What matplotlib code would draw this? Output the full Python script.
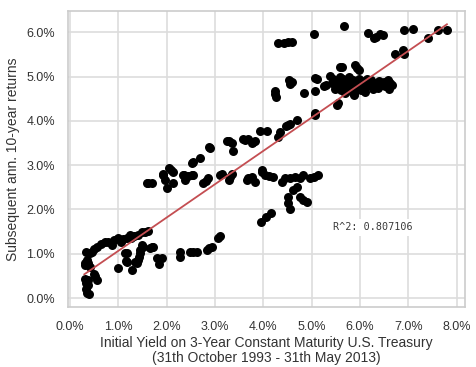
import matplotlib
matplotlib.use("Agg")
import matplotlib.pyplot as plt
import matplotlib.ticker as mticker
import numpy as np

# ---- data (percent units) ----
init_yield = [
    # low-left cluster
    0.33, 0.41, 0.36, 0.31, 0.41, 0.38, 0.31, 0.38, 0.34, 0.38, 0.35, 0.40, 0.33, 0.52, 0.55, 0.50, 0.30, 0.45, 0.55, 0.50,
    # upper arc
    0.65, 0.72, 0.79, 0.86, 0.92, 0.99, 1.06, 1.10, 1.17, 1.24, 1.27, 1.33, 1.41, 1.48, 1.55, 1.61,
    # lower scatter 1-2%
    0.99, 1.14, 1.16, 1.29, 1.35, 1.41, 1.38, 1.44, 1.45, 1.48, 1.52, 1.65, 1.72, 1.69, 1.79, 1.84, 1.90, 1.43, 1.17, 1.17,
    # lower band 2-3%
    2.28, 2.28, 2.48, 2.55, 2.62, 2.83, 2.88, 2.93, 3.07, 3.10,
    # middle band 1.6-3.9
    1.59, 1.62, 1.69, 1.93, 1.97, 2.00, 2.04, 2.09, 2.14, 2.14, 2.35, 2.38, 2.45, 2.52, 2.52, 2.55, 2.69,
    2.76, 2.82, 2.86, 2.88, 2.90, 3.10, 3.14, 3.28, 3.31, 3.35, 3.38, 3.24, 3.30, 3.35, 3.62, 3.69, 3.76, 3.83,
    2.33, 2.55, 1.93,
    # middle band 3.7-5.2
    3.66, 3.69, 3.76, 3.83, 3.97, 4.04, 4.11, 4.21, 4.38, 4.45, 4.55, 4.66, 4.76, 4.83, 4.97, 5.05, 5.14, 3.97,
    4.69, 4.62, 4.52, 4.52, 4.55, 4.76, 4.83, 4.90,
    4.16, 4.06, 3.95,
    # near line 3.9-5.5
    3.93, 4.07, 4.31, 4.35, 4.48, 4.52, 4.56, 4.69, 5.07, 5.07, 5.52, 5.54, 3.57, 3.78,
    # 4.2-6.0 upper
    4.24, 4.27, 4.25, 4.54, 4.56, 4.59, 4.85, 5.07, 5.08, 5.12, 5.25, 5.30, 5.37, 5.58, 5.63, 5.89, 5.94, 5.99,
    # dense cluster
    5.42, 5.45, 5.50, 5.55, 5.58, 5.60, 5.62, 5.65, 5.68, 5.70, 5.72, 5.75, 5.78, 5.80, 5.82, 5.85, 5.87, 5.90,
    5.92, 5.95, 5.98, 6.00, 6.05, 6.08, 6.12, 6.18, 6.22, 6.26, 6.30, 6.35, 6.40, 6.45, 6.52, 6.58, 6.62, 6.67, 5.88,
    5.48, 5.53, 5.66, 5.74, 5.84, 6.02, 6.15, 6.28, 6.38, 6.50, 6.60, 6.10,
    # top row
    4.30, 4.42, 4.52, 4.59, 5.05, 5.67, 6.16, 6.30, 6.34, 6.42, 6.48, 6.92, 7.10, 7.41, 7.61, 7.80, 6.72, 6.90, 6.92,
]
fwd_return = [
    1.05, 1.01, 0.86, 0.74, 0.71, 0.78, 0.44, 0.41, 0.35, 0.29, 0.11, 0.09, 0.20, 0.50, 0.41, 0.55, 0.78, 1.05, 1.16, 1.10,
    1.23, 1.26, 1.27, 1.20, 1.30, 1.35, 1.27, 1.33, 1.36, 1.42, 1.35, 1.40, 1.42, 1.48, 1.50, 1.52,
    0.67, 1.01, 0.84, 0.63, 0.82, 0.86, 0.78, 1.01, 1.08, 1.20, 1.15, 1.12, 1.16, 1.16, 0.90, 0.76, 0.90, 0.93, 1.01, 0.82,
    1.05, 0.93, 1.05, 1.04, 1.05, 1.08, 1.12, 1.16, 1.36, 1.41,
    2.59, 2.59, 2.59, 2.78, 2.66, 2.48, 2.93, 2.90, 2.85, 2.59, 2.78, 2.66, 2.76, 2.78, 3.04, 3.08, 3.15,
    2.59, 2.65, 2.70, 3.40, 3.38, 2.78, 2.80, 2.66, 2.74, 2.81, 3.31, 3.54, 3.55, 3.49, 3.57, 3.60, 3.49, 3.54,
    2.78, 2.78, 2.81,
    2.66, 2.70, 2.74, 2.63, 2.85, 2.78, 2.76, 2.74, 2.63, 2.70, 2.72, 2.74, 2.72, 2.78, 2.70, 2.74, 2.78, 2.89,
    2.51, 2.44, 2.29, 2.15, 2.02, 2.29, 2.22, 2.17,
    1.91, 1.84, 1.72,
    3.78, 3.78, 3.64, 3.75, 3.88, 3.90, 3.92, 4.02, 4.13, 4.17, 4.36, 4.40, 3.60, 3.53,
    4.68, 4.54, 4.60, 4.92, 4.83, 4.88, 4.64, 4.96, 4.68, 4.95, 4.79, 4.82, 5.02, 5.22, 5.22, 5.26, 5.20, 5.15,
    4.85, 4.95, 4.78, 4.90, 5.00, 4.70, 4.85, 4.95, 4.80, 4.62, 4.90, 4.75, 4.98, 4.85, 4.68, 4.92, 4.60, 4.80,
    4.88, 4.72, 4.95, 4.80, 4.90, 4.75, 4.85, 4.80, 4.92, 4.78, 4.86, 4.80, 4.90, 4.82, 4.78, 4.92, 4.85, 4.80, 4.58,
    4.72, 4.88, 4.74, 4.86, 4.76, 4.70, 4.94, 4.72, 4.74, 4.88, 4.72, 4.66,
    5.75, 5.75, 5.77, 5.79, 5.95, 6.14, 5.99, 5.87, 5.89, 5.96, 5.93, 6.04, 6.07, 5.86, 6.05, 6.05, 5.50, 5.60, 5.52,
]
fit_x = [0.296, 7.80]
fit_y = [0.535, 6.18]
r2_label = "R^2: 0.807106"
xlabel = "Initial Yield on 3-Year Constant Maturity U.S. Treasury\n(31th October 1993 - 31th May 2013)"
ylabel = "Subsequent ann. 10-year returns"
xticks = [0, 1, 2, 3, 4, 5, 6, 7, 8]
yticks = [0, 1, 2, 3, 4, 5, 6]

x = np.array(init_yield) / 100
y = np.array(fwd_return) / 100

plt.rcParams['font.family'] = ['Liberation Sans', 'DejaVu Sans']

fig = plt.figure(figsize=(4.76, 3.67), dpi=100)
ax = fig.add_axes([0.1422, 0.1635, 0.8353, 0.8065])
ax.set_facecolor('white')

ax.grid(True, color='#dddddd', linewidth=1.2, zorder=0)
ax.set_axisbelow(True)
for s in ax.spines.values():
    s.set_color('#cccccc')
    s.set_linewidth(1.2)

ax.scatter(x, y, s=42, color='black', linewidths=0, zorder=3)
ax.plot(np.array(fit_x) / 100, np.array(fit_y) / 100, color='#c44e52', lw=1.3, zorder=4)

ax.text(0.0544, 0.016, r2_label, family='DejaVu Sans Mono', fontsize=7.3, color='#3a3a3a',
        va='center', ha='left', zorder=5,
        bbox=dict(facecolor='white', edgecolor='none', pad=2.5))

ax.set_xlim(-0.00048, 0.0818)
ax.set_ylim(-0.00203, 0.0648)
ax.set_xticks([t / 100 for t in xticks])
ax.set_yticks([t / 100 for t in yticks])
fmt = mticker.FuncFormatter(lambda v, p: f"{v*100:.1f}%")
ax.xaxis.set_major_formatter(fmt)
ax.yaxis.set_major_formatter(fmt)
ax.tick_params(axis='both', length=0, labelsize=9, colors='#333333')
ax.tick_params(axis='x', pad=10)
ax.tick_params(axis='y', pad=9)

ax.set_xlabel(xlabel, fontsize=10, color='#333333', labelpad=2, linespacing=1.1)
ax.set_ylabel(ylabel, fontsize=10, color='#333333', labelpad=5)

fig.savefig('out.png', dpi=100, facecolor='white')
